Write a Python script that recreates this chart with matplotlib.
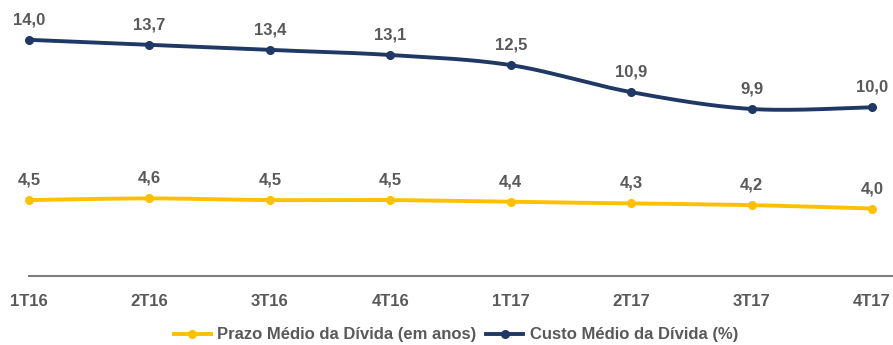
import numpy as np
import matplotlib.pyplot as plt

# dados trimestrais
trimestres = ['1T16', '2T16', '3T16', '4T16', '1T17', '2T17', '3T17', '4T17']
prazo_medio = [4.5, 4.6, 4.5, 4.5, 4.4, 4.3, 4.2, 4.0]
custo_medio = [14.0, 13.7, 13.4, 13.1, 12.5, 10.9, 9.9, 10.0]

cor_prazo = '#FFC000'
cor_custo = '#1F3864'
cor_texto = '#595959'
fonte = {'family': 'Liberation Sans', 'weight': 'bold', 'size': 12}


def suavizar(x, y, n=40):
    # curva suave tipo Excel (bezier com pontos de controle a 1/6)
    x = np.asarray(x, float)
    y = np.asarray(y, float)
    px = np.concatenate([[x[0]], x, [x[-1]]])
    py = np.concatenate([[y[0]], y, [y[-1]]])
    xs, ys = [], []
    t = np.linspace(0, 1, n)
    for i in range(1, len(px) - 2):
        p0 = np.array([px[i], py[i]])
        p3 = np.array([px[i + 1], py[i + 1]])
        p1 = p0 + (np.array([px[i + 1], py[i + 1]]) - np.array([px[i - 1], py[i - 1]])) / 6
        p2 = p3 - (np.array([px[i + 2], py[i + 2]]) - np.array([px[i], py[i]])) / 6
        b = ((1 - t) ** 3)[:, None] * p0 + (3 * (1 - t) ** 2 * t)[:, None] * p1 \
            + (3 * (1 - t) * t ** 2)[:, None] * p2 + (t ** 3)[:, None] * p3
        xs.append(b[:, 0])
        ys.append(b[:, 1])
    return np.concatenate(xs), np.concatenate(ys)


fig = plt.figure(figsize=(8.93, 3.45), dpi=100)
ax = fig.add_axes([29 / 893, 1 - 276 / 345, (893 - 29) / 893, 276 / 345])

x = np.arange(len(trimestres))
for valores, cor, nome in [(prazo_medio, cor_prazo, 'Prazo Médio da Dívida (em anos)'),
                           (custo_medio, cor_custo, 'Custo Médio da Dívida (%)')]:
    sx, sy = suavizar(x, valores)
    ax.plot(sx, sy, color=cor, lw=2.8, solid_capstyle='round', clip_on=False)
    ax.plot(x, valores, 'o', color=cor, ms=5.5, clip_on=False)
    ax.plot([], [], '-o', color=cor, lw=2.8, ms=5.5, label=nome)
    for xi, v in zip(x, valores):
        ax.annotate(f'{v:.1f}'.replace('.', ','), (xi, v), xytext=(0, 9),
                    textcoords='offset points', ha='center', va='bottom',
                    color=cor_texto, **fonte)

ax.set_xlim(0, 7 + 21 / 120.43)
ax.set_ylim(0, 14 + 40 / 16.95)
ax.set_xticks(x)
ax.set_xticklabels(trimestres, color=cor_texto, **fonte)
ax.tick_params(axis='x', length=0, pad=13)
ax.set_yticks([])
for lado in ['top', 'right', 'left']:
    ax.spines[lado].set_visible(False)
ax.spines['bottom'].set_color('#7F7F7F')
ax.spines['bottom'].set_linewidth(1.5)

leg = fig.legend(loc='center', bbox_to_anchor=(456 / 893, 1 - 335 / 345), ncol=2,
                 frameon=False, handlelength=2.2, columnspacing=0.6, handletextpad=0.4,
                 prop=fonte)
for t in leg.get_texts():
    t.set_color(cor_texto)

fig.savefig('out.png', dpi=100)
